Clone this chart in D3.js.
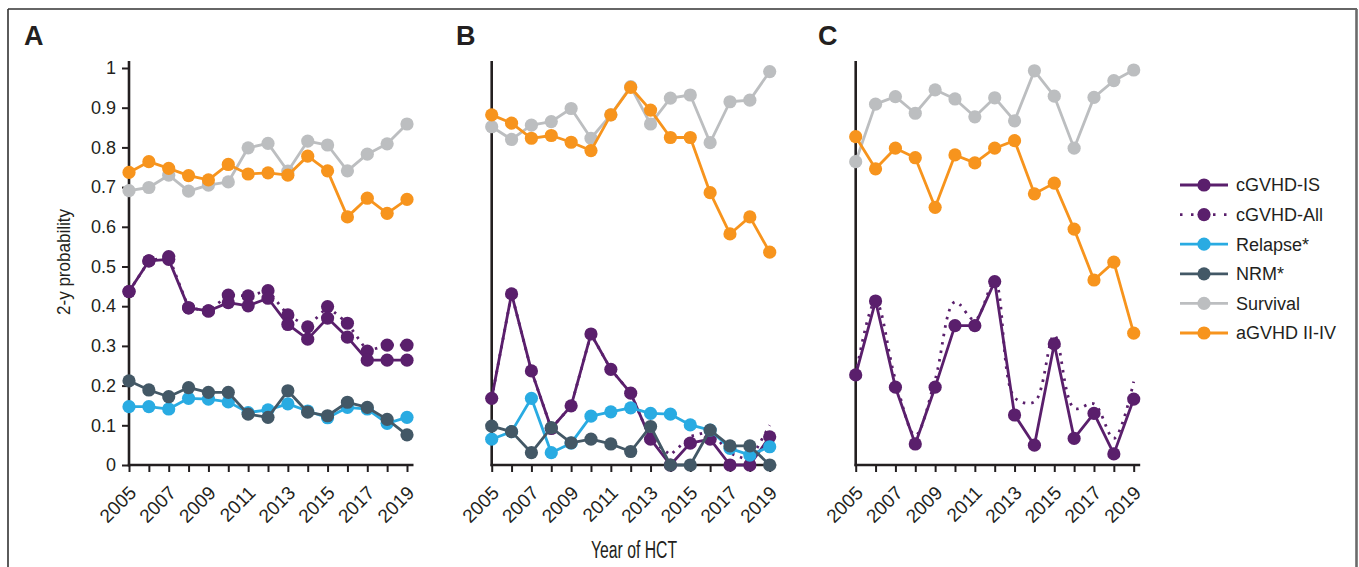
<!DOCTYPE html>
<html><head><meta charset="utf-8">
<script src="https://cdn.jsdelivr.net/npm/d3@7"></script>
<style>
html,body{margin:0;padding:0;background:#fff;}
svg{display:block;font-family:"Liberation Sans",Arial,Helvetica,sans-serif;}
</style></head>
<body>
<svg id="chart" width="1359" height="567"></svg>
<script>
// ---------- data ----------
const years = [2005,2006,2007,2008,2009,2010,2011,2012,2013,2014,2015,2016,2017,2018,2019];
const yTicks = [0,0.1,0.2,0.3,0.4,0.5,0.6,0.7,0.8,0.9,1];
const xTickLabels = ["2005","2007","2009","2011","2013","2015","2017","2019"];
const panelLabels = ["A","B","C"];
const seriesNames = ["cGVHD-IS","cGVHD-All","Relapse*","NRM*","Survival","aGVHD II-IV"];

// Panel A
const aSurvival = [0.691,0.699,0.730,0.690,0.705,0.713,0.799,0.810,0.740,0.816,0.806,0.741,0.783,0.809,0.859];
const aAGVHD    = [0.737,0.764,0.747,0.729,0.718,0.757,0.733,0.736,0.730,0.778,0.741,0.625,0.672,0.634,0.669];
const aIS       = [0.437,0.514,0.518,0.396,0.388,0.409,0.401,0.420,0.354,0.317,0.370,0.322,0.264,0.264,0.264];
const aAll      = [0.437,0.514,0.525,0.396,0.388,0.428,0.426,0.439,0.378,0.348,0.399,0.357,0.287,0.302,0.302];
const aRelapse  = [0.147,0.147,0.141,0.168,0.166,0.159,0.132,0.139,0.154,0.136,0.119,0.145,0.141,0.105,0.120];
const aNRM      = [0.212,0.189,0.172,0.195,0.183,0.183,0.128,0.120,0.187,0.133,0.124,0.158,0.145,0.115,0.076];

// Panel B
const bSurvival = [0.852,0.820,0.856,0.865,0.898,0.823,0.882,0.953,0.859,0.924,0.932,0.812,0.915,0.919,0.991];
const bAGVHD    = [0.882,0.861,0.823,0.830,0.813,0.792,0.882,0.951,0.894,0.825,0.825,0.686,0.582,0.625,0.536];
const bIS       = [0.168,0.431,0.237,0.092,0.149,0.330,0.241,0.181,0.065,0.000,0.055,0.065,0.000,0.000,0.071];
const bAll      = [0.168,0.431,0.237,0.092,0.149,0.330,0.241,0.181,0.065,0.025,0.072,0.085,0.030,0.010,0.100];
const bRelapse  = [0.065,0.084,0.168,0.031,0.055,0.123,0.134,0.144,0.130,0.128,0.101,0.088,0.042,0.025,0.046];
const bNRM      = [0.098,0.084,0.031,0.094,0.056,0.065,0.053,0.034,0.097,0.000,0.000,0.088,0.048,0.048,0.000];

// Panel C
const cSurvival = [0.764,0.909,0.928,0.886,0.945,0.922,0.877,0.925,0.867,0.993,0.929,0.798,0.926,0.968,0.995];
const cAGVHD    = [0.827,0.746,0.798,0.774,0.649,0.781,0.761,0.798,0.817,0.683,0.710,0.594,0.466,0.511,0.332];
const cIS       = [0.227,0.413,0.196,0.053,0.196,0.351,0.351,0.462,0.126,0.050,0.305,0.067,0.130,0.028,0.166];
const cAll      = [0.227,0.413,0.215,0.075,0.215,0.411,0.365,0.462,0.170,0.159,0.327,0.143,0.154,0.067,0.210];

// ---------- styles ----------
const colors = {
  "cGVHD-IS":"#5a1f6c","cGVHD-All":"#5a1f6c","Relapse*":"#29abe2",
  "NRM*":"#435866","Survival":"#bcbec0","aGVHD II-IV":"#f7941d"
};
const ink = "#231f20";
const svg = d3.select("#chart");

// frame
svg.append("line").attr("x1",8).attr("x2",1357).attr("y1",9).attr("y2",9).attr("stroke","#333").attr("stroke-width",1.6);
svg.append("line").attr("x1",8).attr("x2",8).attr("y1",9).attr("y2",567).attr("stroke","#333").attr("stroke-width",1.6);
svg.append("line").attr("x1",1356.5).attr("x2",1356.5).attr("y1",9).attr("y2",567).attr("stroke","#6b6b6b").attr("stroke-width",2.6);

const panels = [
  {x0:129,   lx:24,  showY:true,  dottedMarkers:true,  smooth:false,
   series:[["Survival",aSurvival],["aGVHD II-IV",aAGVHD],["cGVHD-All",aAll],["cGVHD-IS",aIS],["Relapse*",aRelapse],["NRM*",aNRM]]},
  {x0:491.7, lx:456, showY:false, dottedMarkers:false, smooth:false,
   series:[["Survival",bSurvival],["aGVHD II-IV",bAGVHD],["cGVHD-All",bAll],["cGVHD-IS",bIS],["Relapse*",bRelapse],["NRM*",bNRM]]},
  {x0:855.7, lx:818, showY:false, dottedMarkers:false, smooth:true,
   series:[["Survival",cSurvival],["aGVHD II-IV",cAGVHD],["cGVHD-All",cAll],["cGVHD-IS",cIS]]}
];

const yBottom = 465, yTop = 68, xSpan = 278;
const y = d3.scaleLinear().domain([0,1]).range([yBottom,yTop]);
const R = 6.6, LW = 2.8;

panels.forEach((p,pi) => {
  const x = d3.scaleLinear().domain([2005,2019]).range([p.x0, p.x0 + xSpan]);
  const g = svg.append("g");

  // panel label
  g.append("text").attr("x",p.lx).attr("y",45).text(panelLabels[pi])
    .attr("font-size",27).attr("font-weight","bold").attr("fill",ink);

  // x axis
  const xa = g.append("g").attr("transform",`translate(0,${yBottom})`)
    .call(d3.axisBottom(x).tickValues(years).tickSize(7).tickSizeOuter(0)
      .tickFormat(d => xTickLabels.includes(String(d)) ? String(d) : ""));
  xa.select(".domain").remove();
  xa.selectAll(".tick line").attr("stroke",ink).attr("stroke-width",2);
  xa.selectAll(".tick text")
    .attr("font-size",19).attr("fill",ink)
    .attr("text-anchor","end")
    .attr("dy",0).attr("y",0)
    .attr("transform","translate(8,29) rotate(-45)");
  g.append("line").attr("x1",p.x0-1.2).attr("x2",p.x0+xSpan+6.5).attr("y1",yBottom).attr("y2",yBottom)
    .attr("stroke",ink).attr("stroke-width",2.6);

  // y axis
  if (p.showY) {
    const ya = g.append("g").attr("transform",`translate(${p.x0},0)`)
      .call(d3.axisLeft(y).tickValues(yTicks).tickSize(7).tickSizeOuter(0).tickFormat(d3.format("")));
    ya.select(".domain").remove();
    ya.selectAll(".tick line").attr("stroke",ink).attr("stroke-width",2);
    ya.selectAll(".tick text").attr("font-size",18).attr("fill",ink).attr("x",-13);
  }
  g.append("line").attr("x1",p.x0).attr("x2",p.x0).attr("y1",61).attr("y2",yBottom+1.2)
    .attr("stroke",ink).attr("stroke-width",2.6);

  // series
  p.series.forEach(([name, vals]) => {
    const dotted = name === "cGVHD-All";
    const pts = years.map((yr,i) => [yr, vals[i]]);
    const line = d3.line().x(d => x(d[0])).y(d => y(d[1]))
      .curve(dotted && p.smooth ? d3.curveCatmullRom.alpha(0.5) : d3.curveLinear);
    g.append("path").attr("d", line(pts)).attr("fill","none")
      .attr("stroke",colors[name]).attr("stroke-width",LW)
      .attr("stroke-linejoin","round")
      .attr("stroke-dasharray", dotted ? "2.5 6" : null);
    if (!dotted || p.dottedMarkers) {
      g.selectAll(null).data(pts).enter().append("circle")
        .attr("cx",d => x(d[0])).attr("cy",d => y(d[1])).attr("r",R)
        .attr("fill",colors[name]);
    }
  });
});

// axis titles
svg.append("text").attr("transform","translate(70,262) rotate(-90)")
  .attr("text-anchor","middle").attr("font-size",19).attr("fill",ink)
  .attr("textLength",106).attr("lengthAdjust","spacingAndGlyphs")
  .text("2-y probability");
svg.append("text").attr("x",634).attr("y",558)
  .attr("text-anchor","middle").attr("font-size",23).attr("fill",ink)
  .attr("textLength",86).attr("lengthAdjust","spacingAndGlyphs")
  .text("Year of HCT");

// legend
const lg = svg.append("g");
seriesNames.forEach((name,i) => {
  const cy = 185 + i*29.6;
  lg.append("line").attr("x1",1180).attr("x2",1228).attr("y1",cy).attr("y2",cy)
    .attr("stroke",colors[name]).attr("stroke-width",LW)
    .attr("stroke-dasharray", name === "cGVHD-All" ? "2.5 8.5" : null);
  lg.append("circle").attr("cx",1204).attr("cy",cy).attr("r",R).attr("fill",colors[name]);
  lg.append("text").attr("x",1236).attr("y",cy).attr("dy","0.36em")
    .attr("font-size",18).attr("fill",ink).text(name);
});
</script>
</body></html>
